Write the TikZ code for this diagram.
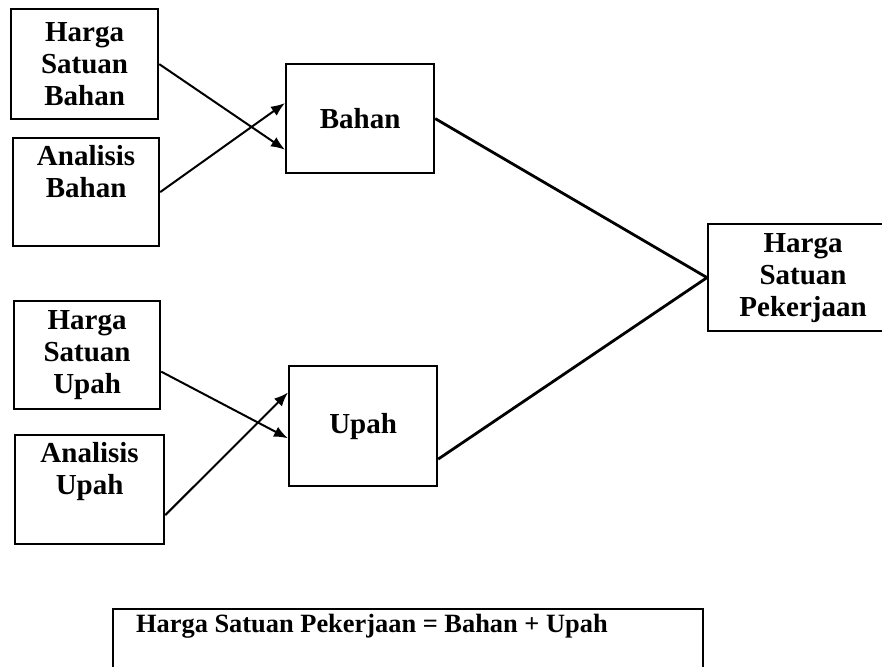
\documentclass[tikz,border=0pt]{standalone}
\usepackage{fontspec}
\setmainfont{Liberation Serif}
\usetikzlibrary{arrows.meta,calc}
\begin{document}
\begin{tikzpicture}[x=1pt,y=-1pt,
  box/.style={draw=black, line width=2.2pt, rectangle, anchor=north west, align=center,
    inner sep=0pt, font=\bfseries\fontsize{29}{32}\selectfont},
  arr/.style={line width=2pt, -{Latex[length=14pt,width=11pt]}},
  ln/.style={line width=2.8pt}]
\useasboundingbox (0,0) rectangle (882,666);
\node[box, minimum width=147pt, minimum height=110pt] (hsb) at (10,8) {Harga\\Satuan\\Bahan};
\node[box, minimum width=146pt, minimum height=108pt] (ab) at (12,137) {Analisis\\Bahan\\\strut};
\node[box, minimum width=148pt, minimum height=109pt] (bahan) at (285,63) {Bahan};
\node[box, minimum width=146pt, minimum height=108pt] (hsu) at (13,300) {Harga\\Satuan\\Upah};
\node[box, minimum width=149pt, minimum height=109pt] (au) at (14,434) {Analisis\\Upah\\\strut};
\node[box, minimum width=148pt, minimum height=120pt] (upah) at (288,365) {Upah};
\node[box, minimum width=190pt, minimum height=107pt] (hsp) at (707,223) {Harga\\Satuan\\Pekerjaan};
\node[box, minimum width=590pt, inner xsep=23pt, inner ysep=3pt,
  text height=20pt, text depth=60pt, font=\bfseries\fontsize{26.4}{30}\selectfont] (formula) at (112,608)
  {\hbox to 544pt{Harga Satuan Pekerjaan = Bahan + Upah\hfil}};
% arrows into Bahan
\draw[arr] (hsb.east) -- ($(bahan.north west)!0.78!(bahan.south west)$);
\draw[arr] (ab.east) -- ($(bahan.north west)!0.36!(bahan.south west)$);
% arrows into Upah
\draw[arr] ($(hsu.north east)!0.65!(hsu.south east)$) -- ($(upah.north west)!0.6!(upah.south west)$);
\draw[arr] ($(au.north east)!0.73!(au.south east)$) -- ($(upah.north west)!0.225!(upah.south west)$);
% lines into Harga Satuan Pekerjaan
\draw[ln] (bahan.east) -- (hsp.west);
\draw[ln] ($(upah.north east)!0.77!(upah.south east)$) -- (hsp.west);
\end{tikzpicture}
\end{document}
